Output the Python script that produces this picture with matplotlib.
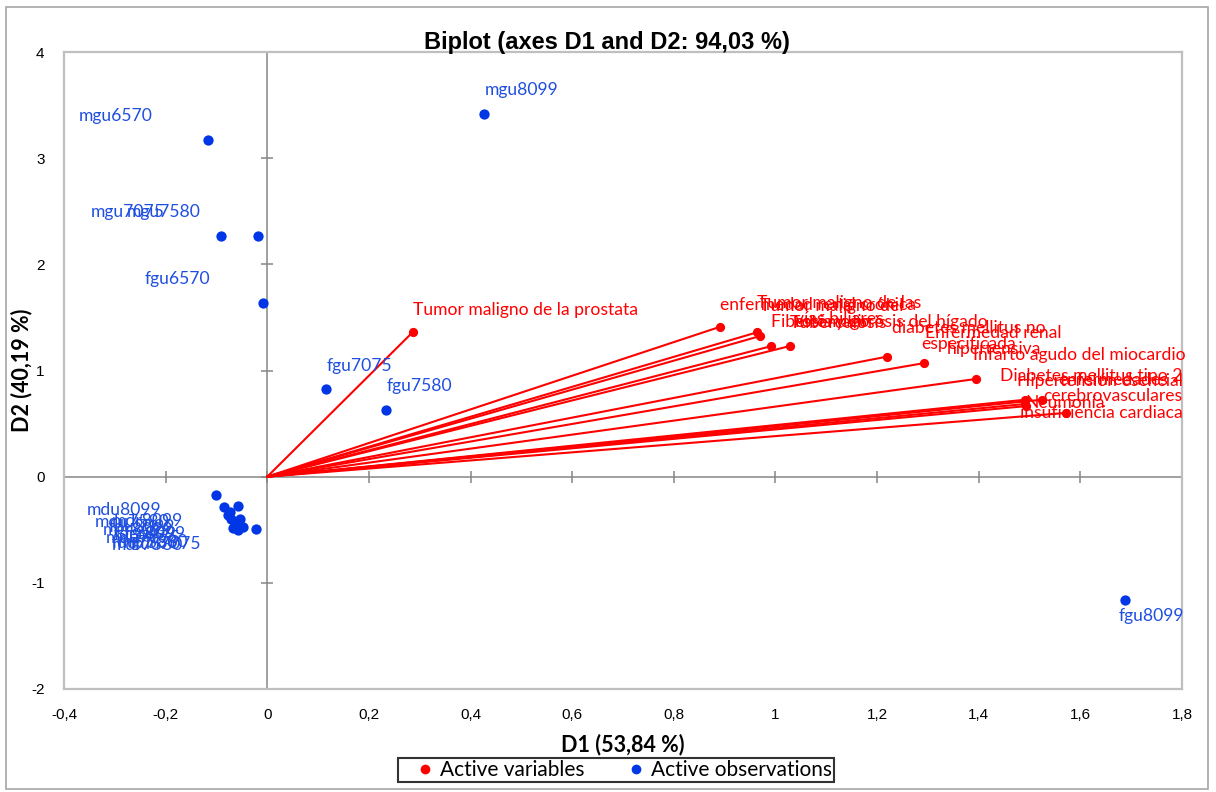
import numpy as np
import matplotlib
matplotlib.use("Agg")
import matplotlib.pyplot as plt
from matplotlib.patches import Rectangle
from matplotlib.ticker import FuncFormatter
from matplotlib.lines import Line2D

RED = "#FF0000"; BLUE = "#0036E6"; BLUE_TXT = "#1F4FE0"; FRAME = "#BFBFBF"; AXL = "#868686"
LBL_FONT = ["Lato", "DejaVu Sans"]
TCK_FONT = ["Liberation Sans", "DejaVu Sans"]

# active variables (loadings on D1/D2)
var_names = ["Tumor maligno de la prostata", "enfermedad renal crónica",
             "Tumor maligno de las\nvías biliares", "Tumor maligno del\nestómago",
             "Fibrosis y cirrosis del hígado", "Tuberculosis",
             "diabetes mellitus no\nespecificada", "Enfermedad renal\nhipertensiva",
             "Infarto agudo del miocardio", "Diabetes mellitus tipo 2",
             "Hipertensión esencial", "enfermedades\ncerebrovasculares",
             "Neumonía", "insuficiencia cardiaca"]
var_d1 = [0.287, 0.890, 0.964, 0.970, 0.992, 1.028, 1.219, 1.293, 1.394, 1.492, 1.492, 1.525, 1.494, 1.571]
var_d2 = [1.365, 1.410, 1.360, 1.325, 1.230, 1.230, 1.130, 1.070, 0.920, 0.725, 0.685, 0.725, 0.665, 0.600]

# active observations (scores on D1/D2)
obs_names = ["mgu6570", "mgu8099", "mgu7075", "mgu7580", "fgu6570", "fgu7075", "fgu7580", "fgu8099",
             "mdu8099", "mdu7580", "mdr8099", "mgr8099", "fdu8099", "fdr8099",
             "mdu7075", "fgr8099", "fdu7580", "mdr7580", "mgr7580", "fdu7075"]
obs_d1 = [-0.116, 0.427, -0.091, -0.018, -0.008, 0.116, 0.234, 1.687,
          -0.100, -0.085, -0.057, -0.077, -0.073, -0.071, -0.063, -0.053, -0.067, -0.057, -0.047, -0.022]
obs_d2 = [3.17, 3.42, 2.27, 2.27, 1.64, 0.83, 0.63, -1.16,
          -0.17, -0.29, -0.28, -0.36, -0.33, -0.40, -0.44, -0.40, -0.48, -0.50, -0.47, -0.49]

# label placement (pixel offsets from the point, horizontal alignment)
var_off = [(0, 22, "left"), (0, 22, "left"), (0, 21, "left"), (0, 22, "left"),
           (0, 24, "left"), (0, 23, "left"), (5, 21, "left"), (1, 22, "left"),
           (-3, 24, "left"), (157, 24, "right"), (157, 23, "right"), (140, 12, "right"),
           (-1, 3, "left"), (117, 0, "right")]
obs_off = [(-56, 24, "right"), (0, 24, "left"), (-56, 24, "right"), (-58, 24, "right"),
           (-53, 24, "right"), (0, 23, "left"), (0, 24, "left"), (-6, -16, "left")] + \
          [(-55, -15, "right")] * 12

fig = plt.figure(figsize=(12.16, 7.92), dpi=100)
ax = fig.add_axes([64/1216, 1-689/792, (1182-64)/1216, (689-52)/792])
ax.set_xlim(-0.4, 1.8); ax.set_ylim(-2, 4)

xt = np.arange(-0.4, 1.81, 0.2); yt = np.arange(-2, 4.1, 1)
ax.set_xticks(xt); ax.set_yticks(yt)
comma = FuncFormatter(lambda v, p: ("%g" % round(v, 1)).replace(".", ","))
ax.xaxis.set_major_formatter(comma); ax.yaxis.set_major_formatter(comma)
ax.tick_params(length=0, labelsize=11)
ax.tick_params(axis="x", pad=14); ax.tick_params(axis="y", pad=14)
for t in ax.get_xticklabels() + ax.get_yticklabels():
    t.set_fontfamily(TCK_FONT)
for s in ax.spines.values():
    s.set_color(FRAME); s.set_linewidth(1.6)

# zero lines with crossing tick marks
ax.axhline(0, color=AXL, lw=1.1, zorder=1); ax.axvline(0, color=AXL, lw=1.1, zorder=1)
ax.plot(xt, np.zeros_like(xt), ls="none", marker="|", ms=9, mew=1.1, color=AXL, zorder=1, clip_on=False)
ax.plot(np.zeros_like(yt), yt, ls="none", marker="_", ms=9, mew=1.1, color=AXL, zorder=1, clip_on=False)

# variable vectors
for x, y in zip(var_d1, var_d2):
    ax.plot([0, x], [0, y], color=RED, lw=1.5, zorder=2)
ax.scatter(var_d1, var_d2, s=44, color=RED, zorder=3, linewidths=0)
ax.scatter(obs_d1, obs_d2, s=55, color=BLUE, zorder=3, linewidths=0)

for n, x, y, (dx, dy, ha) in zip(var_names, var_d1, var_d2, var_off):
    ax.annotate(n, (x, y), xytext=(dx, dy), textcoords="offset pixels", ha=ha, va="center",
                multialignment="center", linespacing=1.0, color=RED, fontsize=12.6,
                family=LBL_FONT, zorder=4)
for n, x, y, (dx, dy, ha) in zip(obs_names, obs_d1, obs_d2, obs_off):
    ax.annotate(n, (x, y), xytext=(dx, dy), textcoords="offset pixels", ha=ha, va="center",
                color=BLUE_TXT, fontsize=12.6, family=LBL_FONT, zorder=4)

fig.text(607/1216, 1-42/792, "Biplot (axes D1 and D2: 94,03 %)", ha="center", va="center",
         fontsize=17, weight="bold", family=TCK_FONT)
fig.text(623/1216, 1-745/792, "D1 (53,84 %)", ha="center", va="center",
         fontsize=15.5, weight="bold", family=LBL_FONT)
fig.text(22/1216, 1-370/792, "D2 (40,19 %)", ha="center", va="center", rotation=90,
         fontsize=15.5, weight="bold", family=LBL_FONT)

handles = [Line2D([], [], ls="none", marker="o", ms=7, color=RED, mew=0),
           Line2D([], [], ls="none", marker="o", ms=7, color=BLUE, mew=0)]
leg = fig.legend(handles, ["Active variables", "Active observations"], loc="center",
                 bbox_to_anchor=(616/1216, 1-770/792), ncol=2, frameon=True, fancybox=False,
                 handletextpad=-0.5, columnspacing=1.3, handlelength=2.4, borderpad=0.1,
                 prop={"family": LBL_FONT, "size": 15})
leg.get_frame().set_edgecolor("black"); leg.get_frame().set_linewidth(1.5)

# outer chart border
fig.patches.append(Rectangle((6/1216, 3/792), 1202/1216, 782/792, transform=fig.transFigure,
                             fill=False, edgecolor="#A6A6A6", lw=1.2))

fig.savefig("out.png", dpi=100)
